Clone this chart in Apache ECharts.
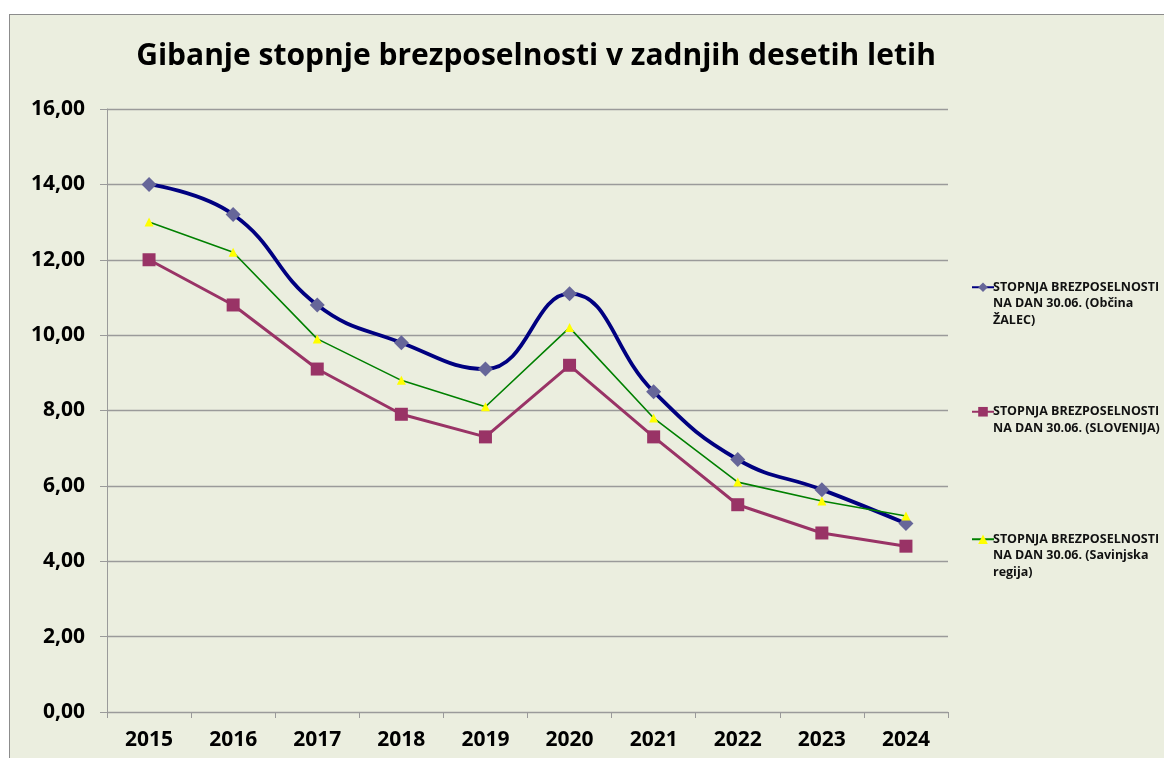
<!DOCTYPE html>
<html>
<head>
<meta charset="utf-8">
<script src="https://cdn.jsdelivr.net/npm/echarts@6/dist/echarts.min.js"></script>
<style>
  html, body { margin: 0; padding: 0; background: #fff; overflow: hidden; width: 1164px; height: 758px; }
  #chart { position: absolute; left: 9px; top: 14px; width: 1170px; height: 760px; border: 1px solid #8c8c8c; }
</style>
</head>
<body>
<div id="chart"></div>
<script>
var years = ['2015', '2016', '2017', '2018', '2019', '2020', '2021', '2022', '2023', '2024'];
var zalec = [14.0, 13.2, 10.8, 9.8, 9.1, 11.1, 8.5, 6.7, 5.9, 5.0];
var slovenija = [12.0, 10.8, 9.1, 7.9, 7.3, 9.2, 7.3, 5.5, 4.75, 4.4];
var savinjska = [13.0, 12.2, 9.9, 8.8, 8.1, 10.2, 7.8, 6.1, 5.6, 5.2];

var nameZalec = 'STOPNJA BREZPOSELNOSTI\nNA DAN 30.06. (Občina\nŽALEC)';
var nameSlo = 'STOPNJA BREZPOSELNOSTI\nNA DAN 30.06. (SLOVENIJA)';
var nameSav = 'STOPNJA BREZPOSELNOSTI\nNA DAN 30.06. (Savinjska\nregija)';

var font = '"Open Sans", "DejaVu Sans", sans-serif';

// legend text is centred on the icon, so pad with empty lines above
function legendFmt(name) {
	var n = name.split('\n').length;
	var pad = '';
	for (var i = 1; i < n; i++) pad += '\n';
	return pad + name;
}

function makeLegend(name, top) {
	return {
		data: [name],
		orient: 'vertical',
		left: 961,
		top: top,
		padding: 0,
		itemWidth: 22,
		itemHeight: 12,
		itemGap: 0,
		formatter: legendFmt,
		textStyle: {
			fontFamily: font,
			fontWeight: 'bold',
			fontSize: 12.5,
			lineHeight: 16.5,
			color: '#111',
			padding: [0, 0, 0, -6]
		}
	};
}

var myChart = echarts.init(document.getElementById('chart'));
var option = {
	backgroundColor: '#ebeedf',
	animation: false,
	title: {
		text: 'Gibanje stopnje brezposelnosti v zadnjih desetih letih',
		left: 521,
		top: 21,
		textAlign: 'center',
		textStyle: {
			fontFamily: font,
			fontWeight: 'bold',
			fontSize: 30,
			color: '#000'
		}
	},
	legend: [
		makeLegend(nameZalec, 231),
		makeLegend(nameSlo, 372),
		makeLegend(nameSav, 483)
	],
	grid: {
		left: 97,
		top: 94,
		width: 841,
		height: 603
	},
	xAxis: {
		type: 'category',
		data: years,
		boundaryGap: true,
		axisLine: { lineStyle: { color: '#9a9a9a', width: 1 } },
		axisTick: { show: true, length: 6, lineStyle: { color: '#9a9a9a' } },
		axisLabel: {
			margin: 18,
			fontFamily: font,
			fontWeight: 'bold',
			fontSize: 21,
			color: '#000'
		}
	},
	yAxis: {
		type: 'value',
		min: 0,
		max: 16,
		interval: 2,
		axisLine: { show: true, lineStyle: { color: '#9a9a9a', width: 1 } },
		axisTick: { show: true, length: 7, lineStyle: { color: '#9a9a9a' } },
		axisLabel: {
			margin: 22,
			fontFamily: font,
			fontWeight: 'bold',
			fontSize: 21,
			color: '#000',
			formatter: function(v) { return v.toFixed(2).replace('.', ','); }
		},
		splitLine: { lineStyle: { color: '#9a9a9a', width: 1.3 } }
	},
	series: [{
			name: nameZalec,
			type: 'line',
			data: zalec,
			smooth: 0.45,
			symbol: 'diamond',
			symbolSize: 15,
			lineStyle: { color: '#000080', width: 3.8 },
			itemStyle: { color: '#666699' },
			color: '#000080',
			z: 3
		},
		{
			name: nameSlo,
			type: 'line',
			data: slovenija,
			symbol: 'rect',
			symbolSize: 13,
			lineStyle: { color: '#993366', width: 3 },
			itemStyle: { color: '#993366' },
			color: '#993366',
			z: 2
		},
		{
			name: nameSav,
			type: 'line',
			data: savinjska,
			symbol: 'triangle',
			symbolSize: 9,
			lineStyle: { color: '#008000', width: 1.6 },
			itemStyle: { color: '#ffff00' },
			color: '#008000',
			z: 4
		}
	]
};

myChart.setOption(option);
</script>
</body>
</html>
